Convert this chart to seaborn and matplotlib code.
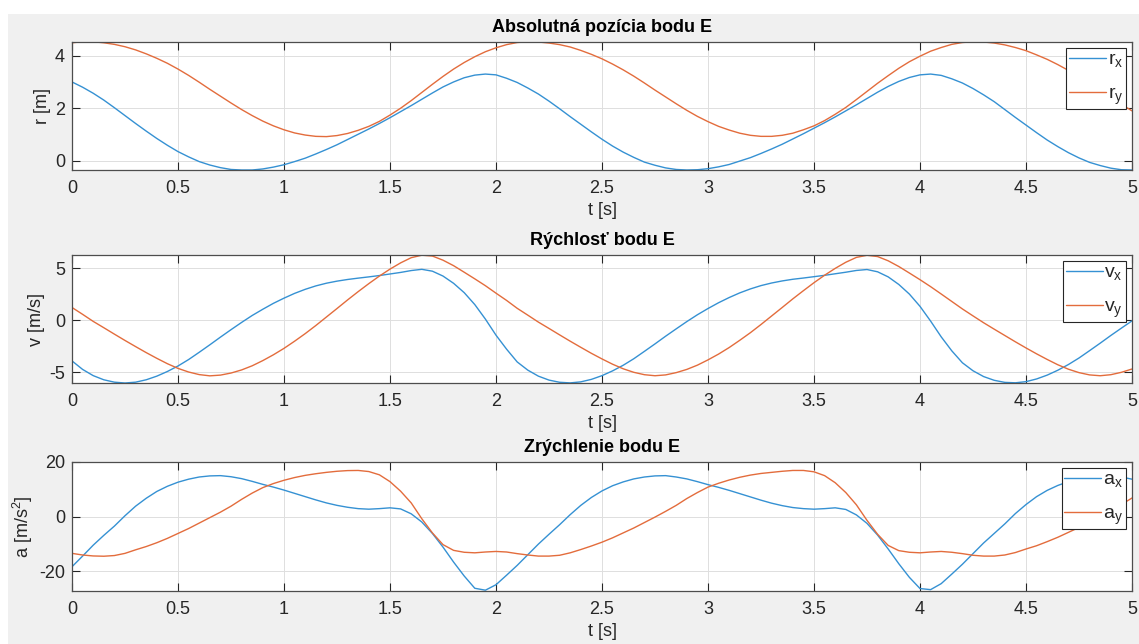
import numpy as np
import pandas as pd
import matplotlib
matplotlib.use("Agg")
import matplotlib.pyplot as plt
import seaborn as sns
from matplotlib.patches import Rectangle
from matplotlib.ticker import FormatStrFormatter

# time samples, 0..5 s every 0.05 s
t = np.round(np.arange(101) * 0.05, 2)

# position of point E [m]
rx = [3.00, 2.80, 2.57, 2.31, 2.02, 1.72, 1.42, 1.13, 0.85, 0.59, 0.35, 0.15, -0.03, -0.16, -0.26, -0.33, -0.35,
      -0.35, -0.31, -0.24, -0.15, -0.03, 0.10, 0.26, 0.43, 0.61, 0.81, 1.01, 1.21, 1.42, 1.64, 1.87, 2.10, 2.34,
      2.58, 2.81, 3.00, 3.16, 3.26, 3.30, 3.27, 3.14,
      2.98, 2.77, 2.54, 2.27, 1.98, 1.68, 1.39, 1.10, 0.82, 0.56, 0.33, 0.13, -0.05, -0.17, -0.27, -0.33, -0.35,
      -0.34, -0.30, -0.23, -0.14, -0.01, 0.12, 0.28, 0.45, 0.63, 0.83, 1.03, 1.24, 1.45, 1.67, 1.90, 2.13, 2.37,
      2.61, 2.83, 3.02, 3.17, 3.27, 3.30, 3.25, 3.12,
      2.96, 2.75, 2.51, 2.25, 1.95, 1.65, 1.36, 1.07, 0.79, 0.54, 0.31, 0.11, -0.06, -0.18, -0.28, -0.34, -0.35]
ry = [4.49, 4.53, 4.53, 4.49, 4.43, 4.34, 4.22, 4.07, 3.90, 3.71, 3.49, 3.25, 2.99, 2.72, 2.46, 2.20, 1.95,
      1.72, 1.51, 1.33, 1.18, 1.06, 0.98, 0.93, 0.92, 0.96, 1.04, 1.16, 1.31, 1.50, 1.74, 2.00, 2.29, 2.60,
      2.91, 3.21, 3.49, 3.74, 3.96, 4.15, 4.30, 4.42,
      4.50, 4.53, 4.52, 4.48, 4.42, 4.33, 4.20, 4.05, 3.88, 3.68, 3.46, 3.22, 2.96, 2.69, 2.43, 2.17, 1.92,
      1.69, 1.49, 1.31, 1.17, 1.05, 0.97, 0.93, 0.93, 0.97, 1.05, 1.18, 1.33, 1.53, 1.77, 2.03, 2.33, 2.64,
      2.95, 3.24, 3.52, 3.77, 3.98, 4.17, 4.31, 4.43,
      4.50, 4.53, 4.52, 4.48, 4.41, 4.31, 4.19, 4.03, 3.86, 3.66, 3.44, 3.19, 2.93, 2.66, 2.40, 2.15, 1.90]

# velocity [m/s]
vx = [-3.93, -4.75, -5.35, -5.75, -5.98, -6.06, -5.98, -5.75, -5.40, -4.95, -4.42, -3.80, -3.10, -2.38, -1.64,
      -0.92, -0.22, 0.45, 1.05, 1.62, 2.12, 2.58, 2.97, 3.30, 3.56, 3.76, 3.92, 4.05, 4.17, 4.30, 4.45, 4.60,
      4.78, 4.90, 4.72, 4.25, 3.55, 2.65, 1.50, 0.10, -1.45, -2.80,
      -4.03, -4.82, -5.40, -5.78, -5.99, -6.05, -5.95, -5.71, -5.35, -4.89, -4.35, -3.72, -3.01, -2.29, -1.55,
      -0.84, -0.14, 0.52, 1.12, 1.68, 2.18, 2.63, 3.01, 3.33, 3.58, 3.78, 3.94, 4.06, 4.19, 4.32, 4.47, 4.62,
      4.79, 4.88, 4.66, 4.17, 3.44, 2.51, 1.33, -0.09, -1.61, -2.96,
      -4.11, -4.88, -5.44, -5.80, -6.00, -6.04, -5.93, -5.67, -5.30, -4.83, -4.28, -3.65, -2.94, -2.22, -1.48,
      -0.77, -0.07]
vy = [1.22, 0.56, -0.12, -0.73, -1.35, -1.96, -2.55, -3.13, -3.68, -4.20, -4.65, -5.00, -5.25, -5.37, -5.30,
      -5.10, -4.80, -4.40, -3.90, -3.34, -2.72, -2.03, -1.30, -0.52, 0.30, 1.12, 1.95, 2.75, 3.52, 4.25, 4.92,
      5.52, 6.02, 6.26, 6.18, 5.78, 5.25, 4.62, 3.98, 3.32, 2.60, 1.90,
      1.14, 0.48, -0.19, -0.80, -1.42, -2.03, -2.62, -3.20, -3.74, -4.25, -4.69, -5.03, -5.26, -5.36, -5.28,
      -5.06, -4.75, -4.34, -3.83, -3.27, -2.64, -1.94, -1.21, -0.42, 0.40, 1.22, 2.05, 2.84, 3.61, 4.33, 4.99,
      5.58, 6.05, 6.25, 6.13, 5.72, 5.17, 4.54, 3.90, 3.23, 2.52, 1.80,
      1.08, 0.41, -0.25, -0.87, -1.48, -2.09, -2.68, -3.25, -3.79, -4.30, -4.73, -5.06, -5.28, -5.36, -5.26,
      -5.03, -4.71]

# acceleration [m/s^2]
ax_ = [-18.4, -14.5, -10.5, -6.9, -3.5, 0.3, 3.8, 6.7, 9.2, 11.1, 12.6, 13.7, 14.5, 14.9, 15.0, 14.6, 13.9,
       12.9, 11.8, 10.8, 9.7, 8.5, 7.3, 6.1, 5.0, 4.1, 3.4, 2.9, 2.7, 2.9, 3.2, 2.8, 1.0, -2.0, -6.2, -11.2,
       -16.7, -21.8, -26.3, -27.0, -25.0, -21.5,
       -17.9, -14.0, -10.1, -6.5, -3.0, 0.7, 4.1, 7.0, 9.4, 11.3, 12.7, 13.8, 14.5, 14.9, 15.0, 14.5, 13.8,
       12.8, 11.7, 10.7, 9.6, 8.4, 7.2, 6.0, 4.9, 4.0, 3.3, 2.9, 2.7, 2.9, 3.2, 2.6, 0.6, -2.5, -6.8, -11.9,
       -17.3, -22.3, -26.4, -26.8, -24.6, -21.1,
       -17.5, -13.6, -9.7, -6.2, -2.7, 1.1, 4.4, 7.3, 9.6, 11.4, 12.8, 13.9, 14.6, 14.9, 14.9, 14.5, 13.7]
ay_ = [-13.5, -14.1, -14.45, -14.55, -14.3, -13.5, -12.2, -11.0, -9.6, -8.0, -6.2, -4.4, -2.4, -0.4, 1.6, 3.8,
       6.3, 8.6, 10.6, 12.1, 13.3, 14.3, 15.1, 15.7, 16.2, 16.6, 16.85, 16.9, 16.5, 15.3, 12.8, 9.3, 5.0, -0.8,
       -6.0, -10.3, -12.4, -13.1, -13.3, -13.0, -12.8, -13.0,
       -13.6, -14.1, -14.5, -14.5, -14.2, -13.3, -12.1, -10.8, -9.4, -7.8, -6.0, -4.2, -2.2, -0.2, 1.9, 4.1,
       6.6, 8.8, 10.8, 12.2, 13.4, 14.4, 15.2, 15.8, 16.2, 16.6, 16.9, 16.9, 16.4, 15.0, 12.4, 8.8, 4.3, -1.4,
       -6.5, -10.6, -12.5, -13.1, -13.3, -13.0, -12.8, -13.1,
       -13.6, -14.2, -14.5, -14.5, -14.1, -13.2, -11.9, -10.7, -9.2, -7.6, -5.8, -4.0, -2.0, 0.0, 2.1, 4.4, 6.8]

titles = ["Absolutná pozícia bodu E", "Rýchlosť bodu E", "Zrýchlenie bodu E"]
ylabels = ["r [m]", "v [m/s]", "a [m/s$^2$]"]
legend_labels = [["r$_x$", "r$_y$"], ["v$_x$", "v$_y$"], ["a$_x$", "a$_y$"]]
ylims = [(-0.35, 4.52), (-6.06, 6.28), (-27.3, 20)]
yticks = [[0, 2, 4], [-5, 0, 5], [-20, 0, 20]]
xticks = [0, 0.5, 1, 1.5, 2, 2.5, 3, 3.5, 4, 4.5, 5]
series = [(rx, ry), (vx, vy), (ax_, ay_)]

blue = "#3591d3"
orange = "#e36c3c"
dark = "#262626"

sns.set_style("ticks")
plt.rcParams["font.family"] = ["Liberation Sans", "DejaVu Sans"]
plt.rcParams["mathtext.fontset"] = "custom"
plt.rcParams["mathtext.rm"] = "Liberation Sans"
plt.rcParams["mathtext.default"] = "regular"
plt.rcParams["axes.unicode_minus"] = False

fig = plt.figure(figsize=(11.39, 6.44), dpi=100)
fig.patch.set_facecolor("white")
bg = Rectangle((8 / 1139, 0), 1 - 8 / 1139, 1 - 14 / 644, transform=fig.transFigure,
               facecolor="#f0f0f0", edgecolor="none", zorder=-5)
fig.add_artist(bg)

# axes boxes in pixels: left, top, right, bottom
boxes = [(72, 42, 1132, 170), (72, 255, 1132, 383), (72, 462, 1132, 591)]

for i in range(3):
    l, tp, r, b = boxes[i]
    ax = fig.add_axes([l / 1139, 1 - b / 644, (r - l) / 1139, (b - tp) / 644])
    ax.set_facecolor("white")
    sx, sy = series[i]
    df = pd.DataFrame({
        "t": np.concatenate([t, t]),
        "val": list(sx) + list(sy),
        "comp": [legend_labels[i][0]] * len(t) + [legend_labels[i][1]] * len(t),
    })
    sns.lineplot(data=df, x="t", y="val", hue="comp", palette=[blue, orange],
                 linewidth=1.0, legend=False, ax=ax)

    ax.set_xlim(0, 5)
    ax.set_ylim(*ylims[i])
    ax.set_xticks(xticks)
    ax.set_yticks(yticks[i])
    ax.xaxis.set_major_formatter(FormatStrFormatter("%g"))
    ax.grid(True, color="#dedede", linewidth=0.7)
    ax.set_axisbelow(True)
    ax.tick_params(direction="in", top=True, right=True, length=6, width=0.8,
                   color=dark, labelcolor=dark, labelsize=13)
    ax.tick_params(axis="x", pad=7)
    ax.tick_params(axis="y", pad=5)
    for s in ax.spines.values():
        s.set_color("#4d4d4d")
        s.set_linewidth(0.9)

    ax.set_title(titles[i], fontsize=13, fontweight="bold", pad=7, color="black")
    ax.set_xlabel("t [s]", fontsize=13, color=dark, labelpad=4)
    ax.set_ylabel(ylabels[i], fontsize=13, color=dark, labelpad=3)

    leg = ax.legend(ax.lines[:2], legend_labels[i], loc="upper right", fontsize=14,
                    frameon=True, fancybox=False, framealpha=1, edgecolor=dark,
                    handlelength=1.9, handletextpad=0.1, borderaxespad=0.3,
                    borderpad=0.15, labelspacing=0.8)
    leg.get_frame().set_linewidth(0.8)

fig.savefig("out.png", dpi=100)
